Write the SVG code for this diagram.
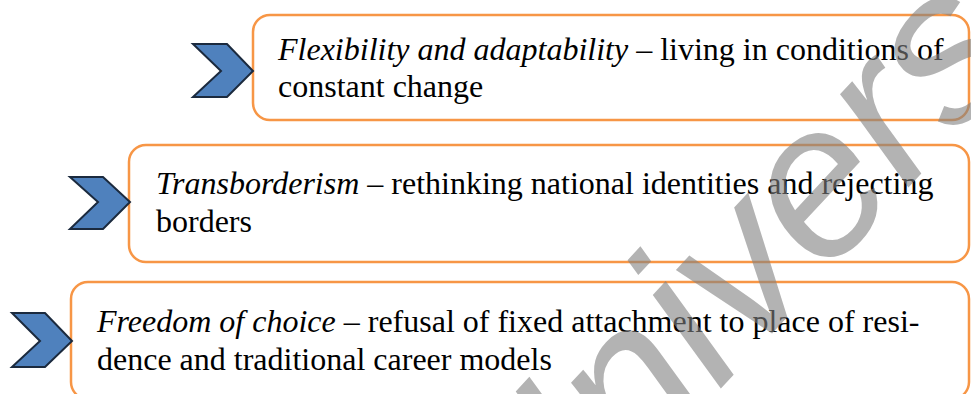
<svg xmlns="http://www.w3.org/2000/svg" width="971" height="394" viewBox="0 0 971 394">
  <style>
    .box { fill: #ffffff; stroke: #F79646; stroke-width: 2.5; }
    .chev { fill: #4F81BD; stroke: #1B2A3E; stroke-width: 2; stroke-linejoin: miter; }
    .txt { font-family: "Liberation Serif", "Times New Roman", serif; font-size: 32px; fill: #000000; }
    .it { font-style: italic; }
    .wm { font-family: "Liberation Sans", Arial, sans-serif; font-style: italic; font-size: 215px; fill: #808080; fill-opacity: 0.6; }
  </style>
  <rect width="971" height="394" fill="#ffffff"/>

  <g id="node-flexibility">
    <rect class="box" x="253" y="15" width="716" height="105" rx="17" ry="17"/>
    <polygon class="chev" points="193,44 227,44 253,71 227,97 193,97 221,71"/>
    <text class="txt" x="278" y="60"><tspan class="it">Flexibility and adaptability</tspan> – living in conditions of</text>
    <text class="txt" x="278" y="97">constant change</text>
  </g>

  <g id="node-transborderism">
    <rect class="box" x="129" y="145" width="840" height="117" rx="17" ry="17"/>
    <polygon class="chev" points="70,177 103,177 130,202 103,229 70,229 98,202"/>
    <text class="txt" x="156" y="194"><tspan class="it">Transborderism</tspan> – rethinking national identities and rejecting</text>
    <text class="txt" x="156" y="232">borders</text>
  </g>

  <g id="node-freedom">
    <rect class="box" x="71" y="282" width="898" height="117" rx="17" ry="17"/>
    <polygon class="chev" points="12,313 45,313 72,341 45,367 12,367 40,341"/>
    <text class="txt" x="97" y="332"><tspan class="it">Freedom of choice</tspan> – refusal of fixed attachment to place of resi-</text>
    <text class="txt" x="97" y="370">dence and traditional career models</text>
  </g>

  <g id="connectors"></g>

  <g id="watermark">
    <text class="wm" transform="translate(531,592) rotate(-47)">University</text>
  </g>
</svg>
